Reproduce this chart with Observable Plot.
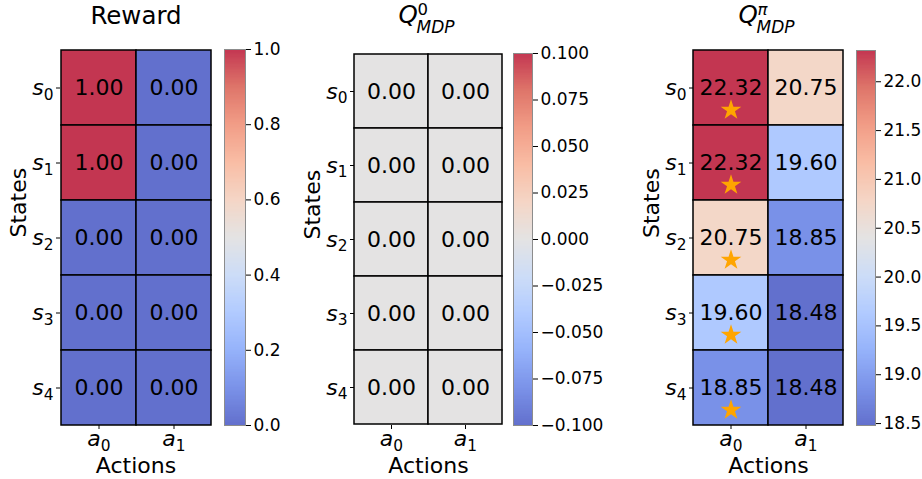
<!DOCTYPE html>
<html><head><meta charset="utf-8">
<script src="https://cdn.jsdelivr.net/npm/d3@7"></script>
<script src="https://cdn.jsdelivr.net/npm/@observablehq/plot@0.6"></script>
<style>
body{margin:0;background:#fff;}
#chart{position:relative;width:922px;height:479px;overflow:hidden;font-family:"DejaVu Sans";}
#chart svg{position:absolute;top:0;overflow:visible;}
</style></head><body><div id="chart"></div>
<script>
// ---- data ----
const states = ["s0", "s1", "s2", "s3", "s4"];
const actions = ["a0", "a1"];
const rewardA0 = [1, 1, 0, 0, 0];
const rewardA1 = [0, 0, 0, 0, 0];
const q0A0 = [0, 0, 0, 0, 0];
const q0A1 = [0, 0, 0, 0, 0];
const qpiA0 = [22.32, 22.32, 20.75, 19.60, 18.85];
const qpiA1 = [20.75, 19.60, 18.85, 18.48, 18.48];
const qpiBest = ["a0", "a0", "a0", "a0", "a0"];
const rewardDomain = [0, 1];
const q0Domain = [-0.1, 0.1];
const qpiDomain = [18.48, 22.32];
const rewardTicks = [0, 0.2, 0.4, 0.6, 0.8, 1.0];
const q0Ticks = [-0.1, -0.075, -0.05, -0.025, 0, 0.025, 0.05, 0.075, 0.1];
const qpiTicks = [18.5, 19, 19.5, 20, 20.5, 21, 21.5, 22];
const coolwarmStops = ["#3b4cc0","#5977e3","#7b9ff9","#9ebeff","#c0d4f5","#dddcdc","#f2cbb7","#f7ac8e","#ee8468","#d65244","#b40426"];

// coolwarm with alpha 0.8 over white
const cwBase = d3.piecewise(d3.interpolateRgb, coolwarmStops);
const coolwarm = t => {
  const c = d3.rgb(cwBase(Math.max(0, Math.min(1, t))));
  return d3.rgb(c.r * 0.8 + 51, c.g * 0.8 + 51, c.b * 0.8 + 51).formatHex();
};

const chart = document.getElementById("chart");
const FONT = "DejaVu Sans";

function subscriptTicks(svg) {
  d3.select(svg).selectAll('g[aria-label$="tick label"] text').each(function () {
    const m = this.textContent.match(/^([a-z])(\d)$/);
    if (!m) return;
    const sel = d3.select(this);
    sel.text(null);
    sel.append("tspan").attr("font-style", "italic").text(m[1]);
    sel.append("tspan").attr("font-size", "0.7em").attr("dy", "0.3em").text(m[2]);
  });
}

function heatmap({a0, a1, domain, best, left, marginLeft, frameW, top, title}) {
  const cells = states.flatMap((s, i) => [
    {state: s, action: actions[0], value: a0[i]},
    {state: s, action: actions[1], value: a1[i]}
  ]);
  const marks = [
    Plot.cell(cells, {x: "action", y: "state", fill: "value", stroke: "black", strokeWidth: 1.5, inset: 0}),
    Plot.text(cells, {x: "action", y: "state", text: d => d.value.toFixed(2), fontSize: 22, fill: "black"}),
    Plot.axisX({tickSize: 4, tickPadding: 1, fontSize: 22, label: null}),
    Plot.axisY({tickSize: 4, tickPadding: 3, fontSize: 22, label: null}),
    Plot.text(["Actions"], {text: d => d, frameAnchor: "bottom", dy: 47.5, lineAnchor: "bottom", fontSize: 22}),
    Plot.text(["States"], {text: d => d, frameAnchor: "left", dx: -41.5, rotate: -90, fontSize: 22})
  ];
  if (best) {
    marks.push(Plot.dot(states.map((s, i) => ({state: s, action: best[i]})),
      {x: "action", y: "state", symbol: "star", fill: "#ffa500", r: 6.5, dy: 22}));
  }
  if (title.sup === undefined) {
    marks.push(Plot.text([title.main], {text: d => d, frameAnchor: "top", dy: 23 - top, lineAnchor: "bottom", fontSize: 24.5}));
  } else {
    marks.push(Plot.text([title.main], {text: d => d, frameAnchor: "top", dx: -30, dy: 22 - top, textAnchor: "start", lineAnchor: "bottom", fontSize: 24.5, fontStyle: "italic"}));
    marks.push(Plot.text([title.sup], {text: d => d, frameAnchor: "top", dx: -11, dy: 14 - top, textAnchor: "start", lineAnchor: "bottom", fontSize: 16.5, fontStyle: title.supItalic ? "italic" : "normal"}));
    marks.push(Plot.text([title.sub], {text: d => d, frameAnchor: "top", dx: -12, dy: 32.5 - top, textAnchor: "start", lineAnchor: "bottom", fontSize: 17, fontStyle: "italic"}));
  }
  const svg = Plot.plot({
    width: marginLeft + frameW + 4, height: 479,
    marginLeft, marginRight: 4, marginTop: top, marginBottom: 54,
    style: {fontFamily: FONT, overflow: "visible", background: "transparent"},
    x: {domain: actions, padding: 0, label: null},
    y: {domain: states, padding: 0, label: null},
    color: {type: "linear", domain, interpolate: coolwarm},
    marks
  });
  subscriptTicks(svg);
  svg.style.left = left + "px";
  chart.appendChild(svg);
}

function colorbar({domain, ticks, fmt, left, top, barW}) {
  const N = 300;
  const steps = d3.range(N).map(i => ({
    y1: domain[0] + (domain[1] - domain[0]) * i / N,
    y2: domain[0] + (domain[1] - domain[0]) * (i + 1) / N
  }));
  const svg = Plot.plot({
    width: 4 + barW + 70, height: 479,
    marginLeft: 4, marginRight: 70, marginTop: top, marginBottom: 54,
    style: {fontFamily: FONT, overflow: "visible", background: "transparent"},
    y: {domain, label: null},
    color: {type: "linear", domain, interpolate: coolwarm},
    marks: [
      Plot.rect(steps, {y1: "y1", y2: "y2", fill: d => (d.y1 + d.y2) / 2, shapeRendering: "crispEdges"}),
      Plot.frame({stroke: "#8c8c8c", strokeWidth: 1}),
      Plot.axisY({anchor: "right", ticks, tickFormat: fmt, tickSize: 5, tickPadding: 3, fontSize: 17, label: null})
    ]
  });
  svg.style.left = left + "px";
  chart.appendChild(svg);
}

heatmap({a0: rewardA0, a1: rewardA1, domain: rewardDomain, left: 0, marginLeft: 60, frameW: 151, top: 49, title: {main: "Reward"}});
colorbar({domain: rewardDomain, ticks: rewardTicks, fmt: d3.format(".1f"), left: 220, top: 49, barW: 21});

heatmap({a0: q0A0, a1: q0A1, domain: q0Domain, left: 300, marginLeft: 54, frameW: 148, top: 53, title: {main: "Q", sup: "0", sub: "MDP"}});
colorbar({domain: q0Domain, ticks: q0Ticks, fmt: d3.format(".3f"), left: 509, top: 53, barW: 19});

heatmap({a0: qpiA0, a1: qpiA1, domain: qpiDomain, best: qpiBest, left: 610, marginLeft: 83, frameW: 150, top: 50, title: {main: "Q", sup: "π", supItalic: true, sub: "MDP"}});
colorbar({domain: qpiDomain, ticks: qpiTicks, fmt: d3.format(".1f"), left: 852, top: 50, barW: 19});
</script>
</body></html>
